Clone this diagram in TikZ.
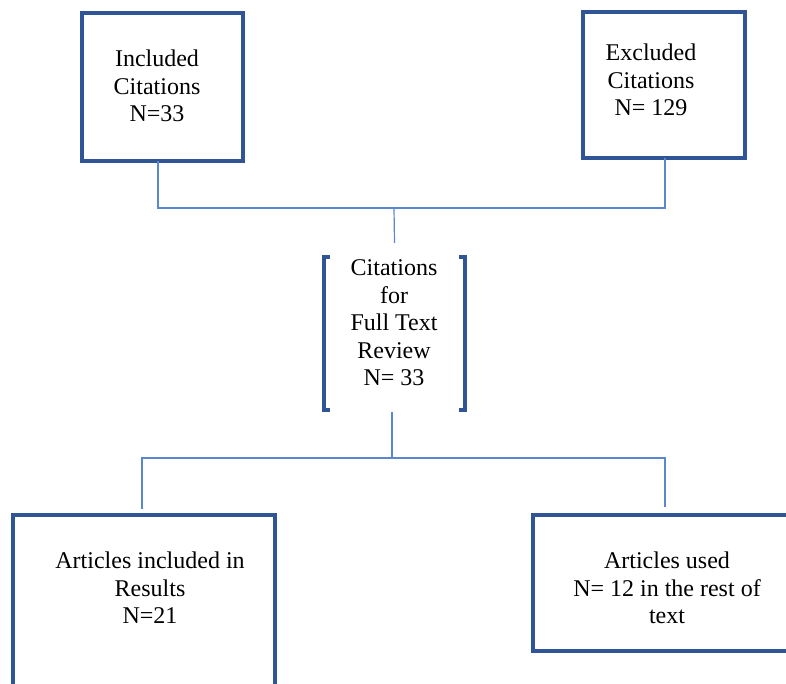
\documentclass[tikz,border=0pt]{standalone}
\usepackage{fontspec}
\setmainfont{Liberation Serif}
\definecolor{boxblue}{HTML}{2F5597}
\definecolor{linkblue}{HTML}{5B86D0}
\tikzset{
  box/.style={draw=boxblue, line width=4.2pt, inner sep=0pt, outer sep=0pt},
  lbl/.style={align=center, inner sep=0pt, font=\fontsize{24}{27.5}\selectfont},
  link/.style={draw=linkblue, line width=1.2pt},
  brk/.style={draw=boxblue, line width=4.2pt}
}
\begin{document}
\begin{tikzpicture}[x=1pt, y=-1pt]
  \clip (0,0) rectangle (786,684);
  % boxes
  \node[box, minimum width=161pt, minimum height=148pt] (inc) at (162.5,87) {};
  \node[box, minimum width=162pt, minimum height=146pt] (exc) at (664,85) {};
  \node[inner sep=0pt, minimum width=141pt, minimum height=153pt] (ftr) at (394.5,333.5) {};
  \node[box, minimum width=262pt, minimum height=185pt] (res) at (144,607.5) {};
  \node[box, minimum width=267pt, minimum height=136pt] (rest) at (666.5,583) {};
  % texts
  \node[lbl] (inc-t) at (157,86) {Included\\Citations\\N=33};
  \node[lbl] (exc-t) at (651,80) {Excluded\\Citations\\N= 129};
  \node[lbl] (ftr-t) at (394,323) {Citations\\for\\Full Text\\Review\\N= 33};
  \node[lbl] (res-t) at (150,588) {Articles included in\\Results\\N=21};
  \node[lbl] (rest-t) at (667,588) {Articles used\\N= 12 in the rest of\\text};
  % brackets
  \draw[brk] ([xshift=6pt]ftr.north west) -- (ftr.north west) -- (ftr.south west) -- ([xshift=6pt]ftr.south west);
  \draw[brk] ([xshift=-6pt]ftr.north east) -- (ftr.north east) -- (ftr.south east) -- ([xshift=-6pt]ftr.south east);
  % connectors
  \coordinate (top) at (394,208);
  \coordinate (bot) at (392,458);
  \draw[link] ([xshift=-4.5pt]inc.south) |- (top) -| ([xshift=1pt]exc.south);
  \draw[link] (top) -- ([yshift=14pt]ftr.north);
  \draw[link] ([xshift=-2.5pt,yshift=-2pt]ftr.south) -- (bot);
  \draw[link] ([xshift=-2pt,yshift=6pt]res.north) |- (bot) -| ([xshift=-1.5pt,yshift=8pt]rest.north);
\end{tikzpicture}
\end{document}
